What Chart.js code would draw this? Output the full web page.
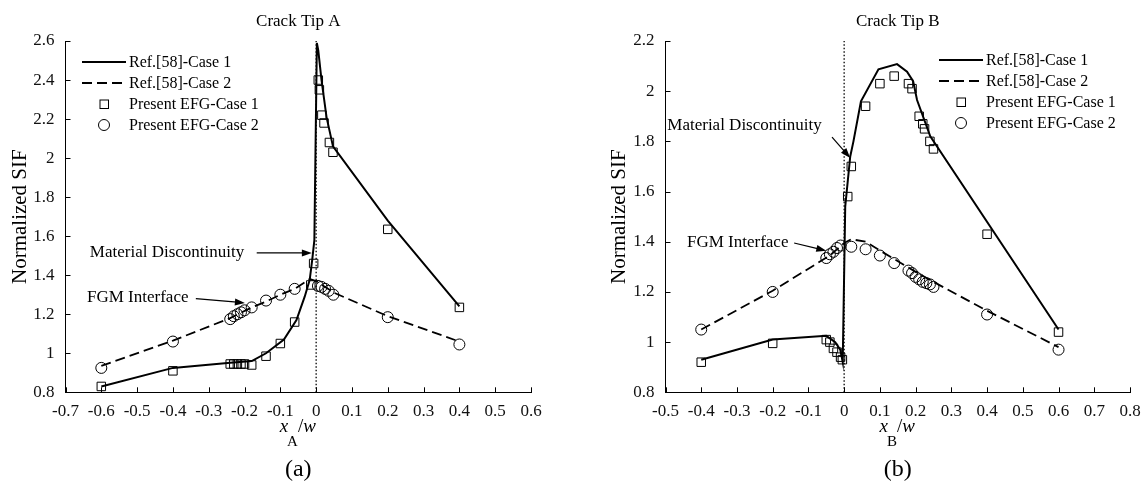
<!DOCTYPE html>
<html lang="en">
<head>
<meta charset="UTF-8">
<title>Normalized SIF - Crack Tips A and B</title>
<script src="https://cdn.jsdelivr.net/npm/chart.js"></script>
<style>
    html, body { margin: 0; padding: 0; background: #fff; }
    #wrap { position: relative; width: 1144px; height: 490px; }
    .panel { position: absolute; top: 0; width: 572px; height: 490px; }
    #panelA { left: 0; }
    #panelB { left: 572px; }
</style>
</head>
<body>
<div id="wrap">
    <div class="panel" id="panelA"><canvas id="chartA" width="572" height="490"></canvas></div>
    <div class="panel" id="panelB"><canvas id="chartB" width="572" height="490"></canvas></div>
</div>
<script>
// ---- Crack tip A ----
const tipA_ref1_x = [-0.6, -0.4, -0.24, -0.18, -0.14, -0.09, -0.055, -0.032, -0.018, -0.011, -0.005, 0.002, 0.006, 0.015, 0.029, 0.047, 0.2, 0.4];
const tipA_ref1_y = [0.83, 0.925, 0.952, 0.96, 1.0, 1.07, 1.17, 1.29, 1.376, 1.478, 1.58, 2.59, 2.55, 2.40, 2.21, 2.06, 1.68, 1.24];
const tipA_ref2_x = [-0.6, -0.4, -0.24, -0.18, -0.14, -0.1, -0.06, -0.018, 0, 0.05, 0.2, 0.4];
const tipA_ref2_y = [0.935, 1.065, 1.18, 1.235, 1.265, 1.30, 1.33, 1.38, 1.37, 1.31, 1.19, 1.06];
const tipA_efg1_x = [-0.6, -0.4, -0.24, -0.23, -0.22, -0.21, -0.2, -0.18, -0.14, -0.1, -0.06, -0.015, -0.007, 0.006, 0.009, 0.016, 0.022, 0.037, 0.047, 0.2, 0.4];
const tipA_efg1_y = [0.83, 0.91, 0.945, 0.945, 0.945, 0.945, 0.945, 0.94, 0.985, 1.05, 1.16, 1.35, 1.46, 2.40, 2.35, 2.22, 2.18, 2.08, 2.03, 1.635, 1.235];
const tipA_efg2_x = [-0.6, -0.4, -0.24, -0.23, -0.22, -0.21, -0.2, -0.18, -0.14, -0.1, -0.06, 0.005, 0.015, 0.025, 0.035, 0.048, 0.2, 0.4];
const tipA_efg2_y = [0.925, 1.06, 1.175, 1.19, 1.20, 1.21, 1.22, 1.235, 1.27, 1.30, 1.33, 1.345, 1.34, 1.33, 1.32, 1.30, 1.185, 1.045];

// ---- Crack tip B ----
const tipB_ref1_x = [-0.4, -0.2, -0.05, -0.025, -0.011, -0.004, 0.003, 0.017, 0.026, 0.047, 0.096, 0.148, 0.176, 0.193, 0.204, 0.241, 0.6];
const tipB_ref1_y = [0.93, 1.01, 1.025, 1.0, 0.97, 0.92, 1.54, 1.74, 1.80, 1.96, 2.087, 2.108, 2.078, 2.04, 1.965, 1.82, 1.05];
const tipB_ref2_x = [-0.4, -0.2, -0.04, 0, 0.02, 0.06, 0.1, 0.2, 0.25, 0.4, 0.6];
const tipB_ref2_y = [1.05, 1.205, 1.345, 1.395, 1.41, 1.40, 1.365, 1.28, 1.24, 1.125, 0.98];
const tipB_efg1_x = [-0.4, -0.2, -0.05, -0.04, -0.03, -0.02, -0.01, -0.005, 0.01, 0.02, 0.06, 0.1, 0.14, 0.18, 0.19, 0.21, 0.22, 0.225, 0.24, 0.25, 0.4, 0.6];
const tipB_efg1_y = [0.92, 0.995, 1.01, 1.0, 0.975, 0.96, 0.94, 0.93, 1.58, 1.70, 1.94, 2.03, 2.06, 2.03, 2.01, 1.90, 1.87, 1.85, 1.80, 1.77, 1.43, 1.04];
const tipB_efg2_x = [-0.4, -0.2, -0.05, -0.04, -0.03, -0.02, -0.01, 0.02, 0.06, 0.1, 0.14, 0.18, 0.19, 0.2, 0.21, 0.22, 0.23, 0.24, 0.25, 0.4, 0.6];
const tipB_efg2_y = [1.05, 1.20, 1.335, 1.35, 1.36, 1.375, 1.385, 1.38, 1.37, 1.345, 1.315, 1.285, 1.275, 1.26, 1.25, 1.24, 1.235, 1.23, 1.22, 1.11, 0.97];

// axis ranges
const rangeA = { xMin: -0.7, xMax: 0.6, yMin: 0.8, yMax: 2.6 };
const rangeB = { xMin: -0.5, xMax: 0.8, yMin: 0.8, yMax: 2.2 };

const legendLabels = ['Ref.[58]-Case 1', 'Ref.[58]-Case 2', 'Present EFG-Case 1', 'Present EFG-Case 2'];

const FONT = "'Liberation Serif', 'Times New Roman', serif";

function pts(xs, ys) {
    return xs.map((x, i) => ({ x: x, y: ys[i] }));
}

function arrow(ctx, x1, y1, x2, y2) {
    const ang = Math.atan2(y2 - y1, x2 - x1);
    const len = 10, half = 3.5;
    ctx.beginPath();
    ctx.moveTo(x1, y1);
    ctx.lineTo(x2 - Math.cos(ang) * len * 0.8, y2 - Math.sin(ang) * len * 0.8);
    ctx.stroke();
    ctx.beginPath();
    ctx.moveTo(x2, y2);
    ctx.lineTo(x2 - Math.cos(ang) * len - Math.sin(ang) * half, y2 - Math.sin(ang) * len + Math.cos(ang) * half);
    ctx.lineTo(x2 - Math.cos(ang) * len + Math.sin(ang) * half, y2 - Math.sin(ang) * len - Math.cos(ang) * half);
    ctx.closePath();
    ctx.fill();
}

// draws inward ticks, titles, legend and the two annotations
const decoPlugin = {
    id: 'deco',
    afterDraw(chart) {
        const d = chart.options.deco;
        const ctx = chart.ctx;
        const area = chart.chartArea;
        const xs = chart.scales.x, ys = chart.scales.y;
        ctx.save();
        ctx.strokeStyle = '#000';
        ctx.fillStyle = '#000';
        ctx.lineWidth = 1;

        // inward tick marks
        ctx.beginPath();
        xs.ticks.forEach(t => {
            const px = Math.round(xs.getPixelForValue(t.value)) + 0.5;
            ctx.moveTo(px, area.bottom);
            ctx.lineTo(px, area.bottom - 5);
        });
        ys.ticks.forEach(t => {
            const py = Math.round(ys.getPixelForValue(t.value)) + 0.5;
            ctx.moveTo(area.left, py);
            ctx.lineTo(area.left + 5, py);
        });
        ctx.stroke();

        const cx = (area.left + area.right) / 2;

        // title
        ctx.font = '17px ' + FONT;
        ctx.textAlign = 'center';
        ctx.textBaseline = 'middle';
        ctx.fillText(d.title, cx, 22);

        // y axis title
        ctx.save();
        ctx.translate(d.yTitleX, (area.top + area.bottom) / 2);
        ctx.rotate(-Math.PI / 2);
        ctx.font = '21px ' + FONT;
        ctx.fillText('Normalized SIF', 0, 0);
        ctx.restore();

        // x axis title: x_sub / w
        ctx.textAlign = 'left';
        ctx.textBaseline = 'alphabetic';
        const fx = 'italic 19px ' + FONT, fs = '15px ' + FONT, fn = '19px ' + FONT;
        ctx.font = fx; const wx = ctx.measureText('x').width;
        ctx.font = fs; const wsub = ctx.measureText(d.sub).width;
        ctx.font = fn; const wsl = ctx.measureText('/').width;
        ctx.font = fx; const ww = ctx.measureText('w').width;
        let px = cx - (wx + wsub + wsl + ww) / 2;
        ctx.font = fx; ctx.fillText('x', px, 432); px += wx - 1;
        ctx.font = fs; ctx.fillText(d.sub, px, 446); px += wsub;
        ctx.font = fn; ctx.fillText('/', px, 432); px += wsl;
        ctx.font = fx; ctx.fillText('w', px, 432);

        // panel caption
        ctx.font = '24px ' + FONT;
        ctx.textAlign = 'center';
        ctx.textBaseline = 'middle';
        ctx.fillText(d.caption, cx, 470);

        // legend
        ctx.font = '16px ' + FONT;
        ctx.textAlign = 'left';
        const lx = area.left + d.legendX, ly = area.top + d.legendY;
        legendLabels.forEach((lab, i) => {
            const y = ly + i * 21;
            ctx.save();
            if (i === 0 || i === 1) {
                ctx.lineWidth = 2;
                ctx.setLineDash(i === 1 ? [10, 5] : []);
                ctx.beginPath();
                ctx.moveTo(lx, y);
                ctx.lineTo(lx + 44, y);
                ctx.stroke();
            } else if (i === 2) {
                ctx.strokeRect(lx + 22 - 4, y - 4, 8.5, 8.5);
            } else {
                ctx.beginPath();
                ctx.arc(lx + 22, y, 5.5, 0, Math.PI * 2);
                ctx.stroke();
            }
            ctx.restore();
            ctx.fillText(lab, lx + 47, y + 1);
        });

        // annotations with arrows
        ctx.font = '17px ' + FONT;
        d.notes.forEach(n => {
            ctx.fillText(n.text, xs.getPixelForValue(n.tx), ys.getPixelForValue(n.ty));
            ctx.lineWidth = 1.2;
            arrow(ctx, xs.getPixelForValue(n.ax), ys.getPixelForValue(n.ay),
                xs.getPixelForValue(n.bx), ys.getPixelForValue(n.by));
        });
        ctx.restore();
    }
};

function buildChart(id, range, series, pad, deco) {
    const markerBase = { showLine: false, borderColor: '#000', backgroundColor: 'rgba(0,0,0,0)', borderWidth: 1 };
    const lineBase = { showLine: true, pointRadius: 0, borderColor: '#000', backgroundColor: '#000', tension: 0 };
    return new Chart(document.getElementById(id), {
        type: 'scatter',
        data: {
            datasets: [
                Object.assign({ label: legendLabels[2], data: pts(series.efg1x, series.efg1y), pointStyle: 'rect', pointRadius: 6 }, markerBase),
                Object.assign({ label: legendLabels[3], data: pts(series.efg2x, series.efg2y), pointStyle: 'circle', pointRadius: 5.5 }, markerBase),
                Object.assign({ label: legendLabels[0], data: pts(series.ref1x, series.ref1y), borderWidth: 2 }, lineBase),
                Object.assign({ label: legendLabels[1], data: pts(series.ref2x, series.ref2y), borderWidth: 1.8, borderDash: [10, 5] }, lineBase),
                // x = 0 reference line
                Object.assign({ label: 'zero', data: [{ x: 0, y: range.yMin }, { x: 0, y: range.yMax }], borderWidth: 1.3, borderDash: [1.5, 2] }, lineBase)
            ]
        },
        options: {
            responsive: false,
            animation: false,
            events: [],
            layout: { padding: pad },
            plugins: { legend: { display: false }, tooltip: { enabled: false } },
            scales: {
                x: {
                    type: 'linear',
                    min: range.xMin, max: range.xMax,
                    grid: { display: false },
                    border: { color: '#000', width: 1 },
                    ticks: {
                        stepSize: 0.1, autoSkip: false, maxRotation: 0, padding: 1,
                        color: '#111', font: { family: FONT, size: 17 },
                        callback: v => String(parseFloat(v.toFixed(1)))
                    },
                    afterFit: s => { s.height = 30; }
                },
                y: {
                    type: 'linear',
                    min: range.yMin, max: range.yMax,
                    grid: { display: false },
                    border: { color: '#000', width: 1 },
                    ticks: {
                        stepSize: 0.2, padding: 3,
                        color: '#111', font: { family: FONT, size: 17 },
                        callback: v => String(parseFloat(v.toFixed(1)))
                    },
                    afterFit: s => { s.width = 50; }
                }
            },
            deco: deco
        },
        plugins: [decoPlugin]
    });
}

buildChart('chartA', rangeA,
    { ref1x: tipA_ref1_x, ref1y: tipA_ref1_y, ref2x: tipA_ref2_x, ref2y: tipA_ref2_y,
      efg1x: tipA_efg1_x, efg1y: tipA_efg1_y, efg2x: tipA_efg2_x, efg2y: tipA_efg2_y },
    { left: 15.5, right: 41, top: 41, bottom: 67.7 },
    {
        title: 'Crack Tip A', caption: '(a)', sub: 'A', yTitleX: 20,
        legendX: 16.5, legendY: 21,
        notes: [
            { text: 'Material Discontinuity', tx: -0.632, ty: 1.514, ax: -0.166, ay: 1.514, bx: -0.012, by: 1.514 },
            { text: 'FGM Interface', tx: -0.64, ty: 1.284, ax: -0.336, ay: 1.28, bx: -0.199, by: 1.258 }
        ]
    });

buildChart('chartB', rangeB,
    { ref1x: tipB_ref1_x, ref1y: tipB_ref1_y, ref2x: tipB_ref2_x, ref2y: tipB_ref2_y,
      efg1x: tipB_efg1_x, efg1y: tipB_efg1_y, efg2x: tipB_efg2_x, efg2y: tipB_efg2_y },
    { left: 43.5, right: 14, top: 41, bottom: 67.7 },
    {
        title: 'Crack Tip B', caption: '(b)', sub: 'B', yTitleX: 47.5,
        legendX: 273.5, legendY: 19,
        notes: [
            { text: 'Material Discontinuity', tx: -0.495, ty: 1.865, ax: -0.034, ay: 1.817, bx: 0.017, by: 1.734 },
            { text: 'FGM Interface', tx: -0.44, ty: 1.395, ax: -0.14, ay: 1.395, bx: -0.05, by: 1.364 }
        ]
    });
</script>
</body>
</html>
